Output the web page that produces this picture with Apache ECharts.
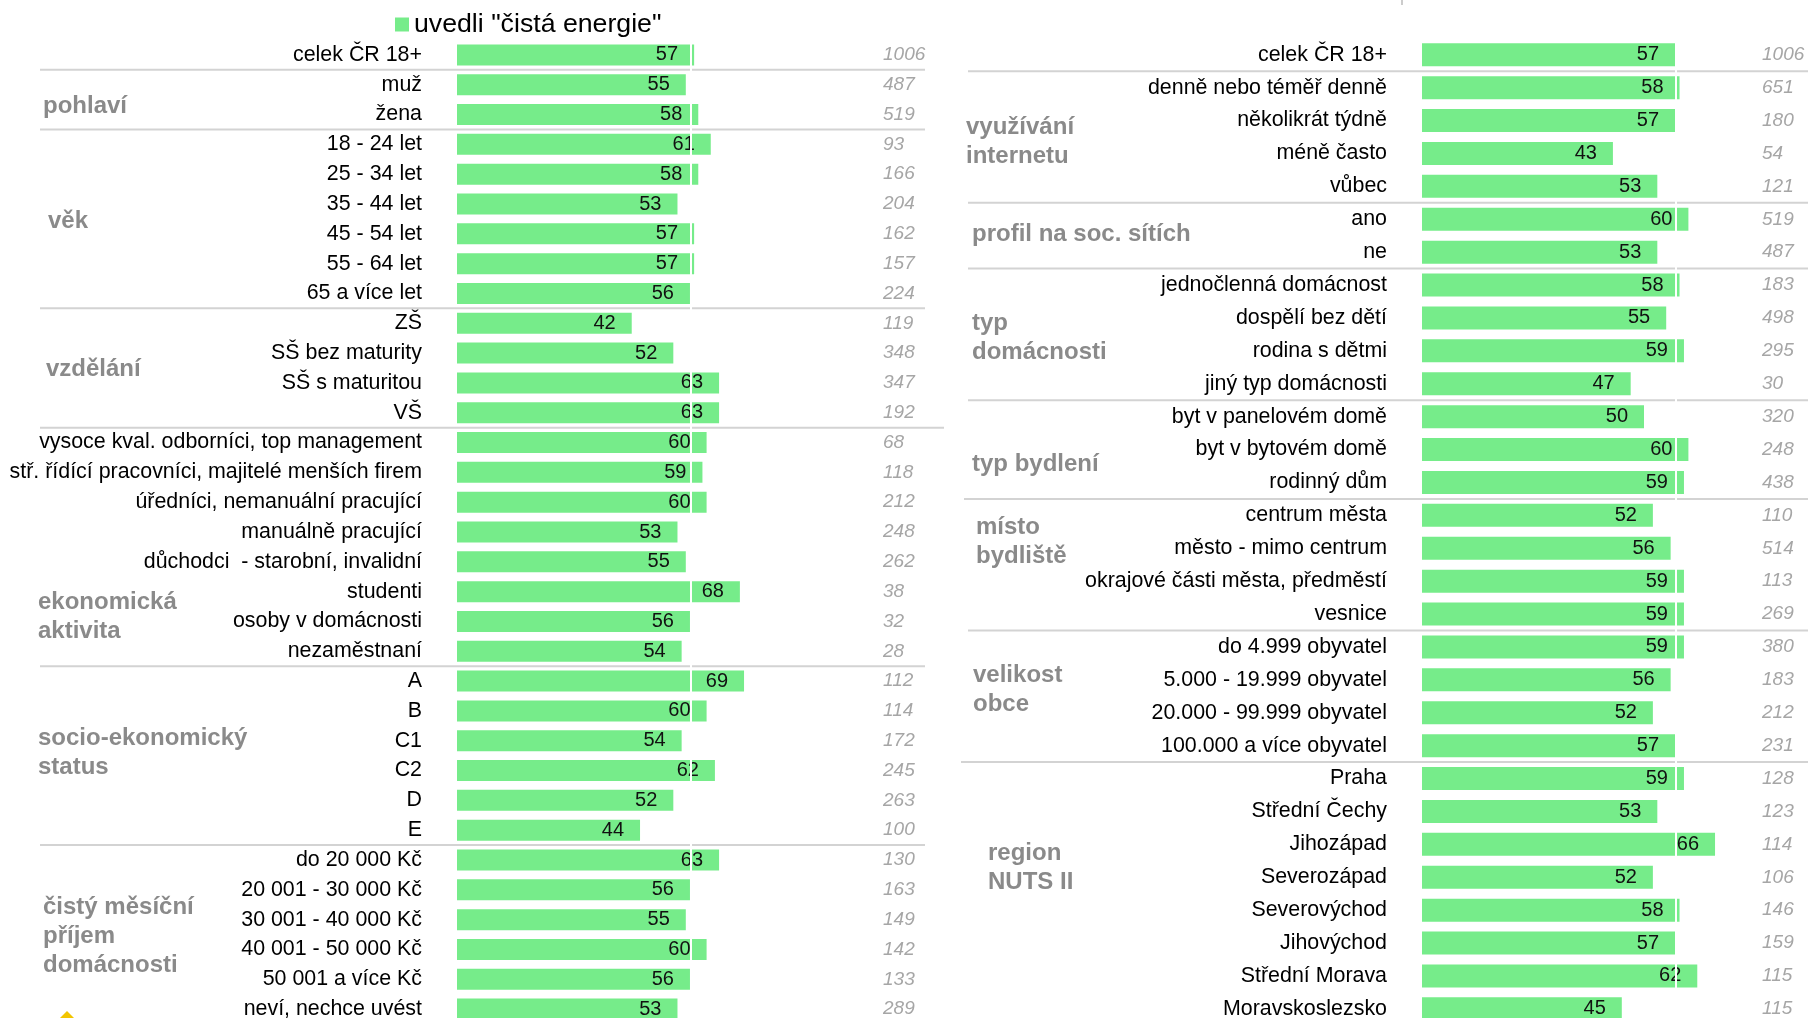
<!DOCTYPE html>
<html>
<head>
<meta charset="utf-8">
<title>uvedli "čistá energie"</title>
<script src="https://cdn.jsdelivr.net/npm/echarts@6/dist/echarts.min.js"></script>
<style>
  html, body { margin: 0; padding: 0; background: #fff; }
  #main { width: 1808px; height: 1018px; }
</style>
</head>
<body>
<div id="main"></div>
<script>
// data - levy panel
var leftCats = ['celek ČR 18+', 'muž', 'žena',
  '18 - 24 let', '25 - 34 let', '35 - 44 let', '45 - 54 let', '55 - 64 let', '65 a více let',
  'ZŠ', 'SŠ bez maturity', 'SŠ s maturitou', 'VŠ',
  'vysoce kval. odborníci, top management', 'stř. řídící pracovníci, majitelé menších firem',
  'úředníci, nemanuální pracující', 'manuálně pracující', 'důchodci  - starobní, invalidní',
  'studenti', 'osoby v domácnosti', 'nezaměstnaní',
  'A', 'B', 'C1', 'C2', 'D', 'E',
  'do 20 000 Kč', '20 001 - 30 000 Kč', '30 001 - 40 000 Kč', '40 001 - 50 000 Kč',
  '50 001 a více Kč', 'neví, nechce uvést'];
var leftVals = [57, 55, 58, 61, 58, 53, 57, 57, 56, 42, 52, 63, 63,
  60, 59, 60, 53, 55, 68, 56, 54, 69, 60, 54, 62, 52, 44,
  63, 56, 55, 60, 56, 53];
var leftN = [1006, 487, 519, 93, 166, 204, 162, 157, 224, 119, 348, 347, 192,
  68, 118, 212, 248, 262, 38, 32, 28, 112, 114, 172, 245, 263, 100,
  130, 163, 149, 142, 133, 289];
var leftGroups = ['', 'pohlaví', 'věk', 'vzdělání', 'ekonomická\naktivita',
  'socio-ekonomický\nstatus', 'čistý měsíční\npříjem\ndomácnosti'];
var leftGroupSizes = [1, 2, 6, 4, 8, 6, 6];

// data - pravy panel
var rightCats = ['celek ČR 18+', 'denně nebo téměř denně', 'několikrát týdně', 'méně často', 'vůbec',
  'ano', 'ne',
  'jednočlenná domácnost', 'dospělí bez dětí', 'rodina s dětmi', 'jiný typ domácnosti',
  'byt v panelovém domě', 'byt v bytovém domě', 'rodinný dům',
  'centrum města', 'město - mimo centrum', 'okrajové části města, předměstí', 'vesnice',
  'do 4.999 obyvatel', '5.000 - 19.999 obyvatel', '20.000 - 99.999 obyvatel', '100.000 a více obyvatel',
  'Praha', 'Střední Čechy', 'Jihozápad', 'Severozápad', 'Severovýchod', 'Jihovýchod',
  'Střední Morava', 'Moravskoslezsko'];
var rightVals = [57, 58, 57, 43, 53, 60, 53, 58, 55, 59, 47, 50, 60, 59,
  52, 56, 59, 59, 59, 56, 52, 57, 59, 53, 66, 52, 58, 57, 62, 45];
var rightN = [1006, 651, 180, 54, 121, 519, 487, 183, 498, 295, 30, 320, 248, 438,
  110, 514, 113, 269, 380, 183, 212, 231, 128, 123, 114, 106, 146, 159, 115, 115];
var rightGroups = ['', 'využívání\ninternetu', 'profil na soc. sítích', 'typ\ndomácnosti',
  'typ bydlení', 'místo\nbydliště', 'velikost\nobce', 'region\nNUTS II'];
var rightGroupSizes = [1, 4, 2, 4, 3, 4, 4, 8];

// bila referencni cara (celek)
var refValues = [56.3, 57.2];

var seriesName = 'uvedli "čistá energie"';

// layout
var FONT = '"Liberation Sans", Arial, sans-serif';
var GREEN = '#76ec8a';
var leftGroupPos = [null, [43, 106], [48, 221], [46, 369], [38, 602], [38, 738], [43, 907]];
var rightGroupPos = [null, [966, 127], [972, 234], [972, 323], [972, 464], [976, 527], [973, 675], [988, 853]];

var chart = echarts.init(document.getElementById('main'));

function catAxis(gridIndex, data, margin) {
  return {
    gridIndex: gridIndex, type: 'category', data: data, inverse: true,
    axisLine: { show: false }, axisTick: { show: false },
    axisLabel: { interval: 0, margin: margin, fontSize: 21.4, color: '#000', fontFamily: FONT }
  };
}
function nAxis(gridIndex, data, margin) {
  return {
    gridIndex: gridIndex, type: 'category', data: data, inverse: true, position: 'right',
    axisLine: { show: false }, axisTick: { show: false },
    axisLabel: { interval: 0, margin: margin, fontSize: 19, fontStyle: 'italic', color: '#a6a6a6', fontFamily: FONT }
  };
}
function barSeries(idx, data, barWidth, ref) {
  return {
    name: seriesName, type: 'bar', xAxisIndex: idx, yAxisIndex: idx * 2,
    data: data, barWidth: barWidth,
    itemStyle: { color: GREEN },
    label: { show: true, position: 'insideRight', distance: 16, fontSize: 20, color: '#111', fontFamily: FONT },
    markLine: {
      silent: true, symbol: 'none', animation: false,
      label: { show: false },
      lineStyle: { color: '#fff', width: 2, type: 'solid' },
      data: [{ xAxis: ref }]
    }
  };
}

var option = {
  animation: false,
  legend: {
    data: [seriesName], left: 395, top: 11, padding: 0,
    icon: 'rect', itemWidth: 14, itemHeight: 14,
    textStyle: { fontSize: 26.7, color: '#000', fontFamily: FONT }
  },
  grid: [
    { left: 457, top: 40, width: 416, height: 984, outerBoundsMode: 'none', containLabel: false },
    { left: 1422, top: 38.3, width: 333, height: 987, outerBoundsMode: 'none', containLabel: false }
  ],
  xAxis: [
    { gridIndex: 0, type: 'value', min: 0, max: 100, show: false },
    { gridIndex: 1, type: 'value', min: 0, max: 75, show: false }
  ],
  yAxis: [
    catAxis(0, leftCats, 35), nAxis(0, leftN, 10),
    catAxis(1, rightCats, 35), nAxis(1, rightN, 7)
  ],
  series: [
    barSeries(0, leftVals, 21, refValues[0]),
    barSeries(1, rightVals, 23, refValues[1])
  ]
};
chart.setOption(option);

// oddelovaci cary a nazvy skupin
function groupGraphics(yAxisIndex, sizes, names, pos, x1, x2, special) {
  var els = [];
  var idx = 0;
  for (var i = 0; i < sizes.length; i++) {
    if (i > 0) {
      var y = (chart.convertToPixel({ yAxisIndex: yAxisIndex }, idx - 1) +
               chart.convertToPixel({ yAxisIndex: yAxisIndex }, idx)) / 2;
      var sx1 = x1, sx2 = x2;
      if (special[i]) { sx1 = special[i][0]; sx2 = special[i][1]; }
      els.push({
        type: 'line', silent: true,
        shape: { x1: sx1, y1: y, x2: sx2, y2: y },
        style: { stroke: '#d3d3d3', lineWidth: 2 }
      });
    }
    if (names[i] && pos[i]) {
      els.push({
        type: 'text', silent: true, x: pos[i][0], y: pos[i][1] - 14.5,
        style: {
          text: names[i], fill: '#8a8a8a', fontSize: 24, fontWeight: 'bold',
          fontFamily: FONT, lineHeight: 29, verticalAlign: 'top', align: 'left'
        }
      });
    }
    idx += sizes[i];
  }
  return els;
}

var graphics = []
  .concat(groupGraphics(0, leftGroupSizes, leftGroups, leftGroupPos, 40, 925, { 4: [40, 944] }))
  .concat(groupGraphics(2, rightGroupSizes, rightGroups, rightGroupPos, 968, 1808, { 5: [964, 1808], 7: [961, 1808] }));

// drobne zbytky z originalu
graphics.push({ type: 'line', silent: true, shape: { x1: 1402, y1: 0, x2: 1402, y2: 5 }, style: { stroke: '#999', lineWidth: 1 } });
graphics.push({ type: 'polygon', silent: true, shape: { points: [[67, 1011], [81, 1025], [67, 1039], [53, 1025]] }, style: { fill: '#f2c500' } });

chart.setOption({ graphic: graphics });
</script>
</body>
</html>
